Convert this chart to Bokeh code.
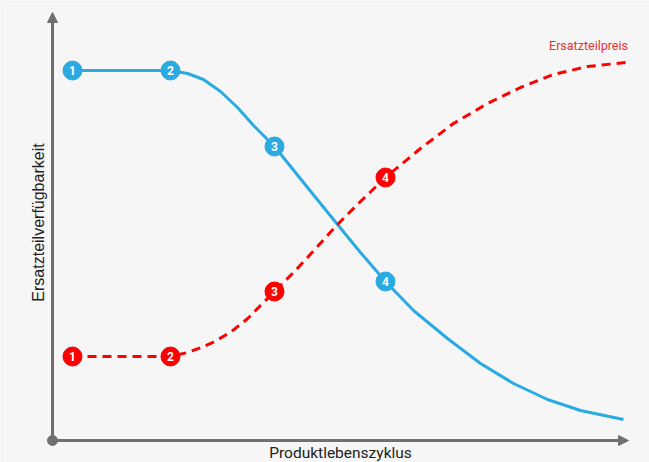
from bokeh.plotting import figure
from bokeh.models import Range1d, Arrow, NormalHead, Label, ColumnDataSource
from bokeh.core.properties import value
from bokeh.embed import file_html
from bokeh.resources import INLINE

# Data (arbitrary units: lifecycle on x, level on y)
blue_x = [20, 118, 135, 151, 168, 185, 201, 222, 255, 285, 308, 333, 361, 395, 428, 461, 495, 528, 571]
blue_y = [370, 370, 367, 361, 349, 333, 315, 294, 253, 216, 188, 159, 130, 102, 77, 57, 41, 30, 21]
red_x = [20, 118, 135, 148, 161, 178, 195, 208, 222, 241, 255, 285, 308, 333, 368, 401, 435, 468, 501, 535, 574]
red_y = [84, 84, 88, 92.7, 98.3, 108.3, 121.7, 135, 149, 168, 183, 216, 239, 263, 292, 317, 337, 353, 366, 374, 378]

marker_labels = ["1", "2", "3", "4"]
blue_mx = [20, 118, 222, 333]
blue_my = [370, 370, 294, 159]
red_mx = [20, 118, 222, 333]
red_my = [84, 84, 149, 263]

BLUE = "#29abe2"
RED = "#ff0000"
GREY = "#707070"
BG = "#f6f6f6"

p = figure(width=649, height=462, output_backend="svg", toolbar_location=None,
           x_range=Range1d(-52, 597), y_range=Range1d(-22, 440),
           min_border=0, background_fill_color=BG, border_fill_color=BG)
p.axis.visible = False
p.grid.visible = False
p.outline_line_color = None

# Axes with arrowheads
p.add_layout(Arrow(end=NormalHead(size=10, fill_color=GREY, line_color=GREY),
                   x_start=0, y_start=0, x_end=0, y_end=428,
                   line_color=GREY, line_width=3))
p.add_layout(Arrow(end=NormalHead(size=10, fill_color=GREY, line_color=GREY),
                   x_start=0, y_start=0, x_end=576, y_end=0,
                   line_color=GREY, line_width=3))
p.scatter([0], [0], size=10, color=GREY)

# Curves
p.line(blue_x, blue_y, line_color=BLUE, line_width=3, line_join="round")
p.line(red_x, red_y, line_color=RED, line_width=3, line_dash="9 6")

# Markers
for mx, my, col in ((blue_mx, blue_my, BLUE), (red_mx, red_my, RED)):
    src = ColumnDataSource(dict(x=mx, y=my, t=marker_labels))
    p.scatter("x", "y", source=src, size=19, fill_color=col, line_color=col)
    p.text("x", "y", text="t", source=src, text_color="white",
           text_font=value("Roboto"), text_font_style="bold", text_font_size="12px",
           text_align="center", text_baseline="middle")

# Labels
p.add_layout(Label(x=536, y=395, text="Ersatzteilpreis", text_color="#f03030",
                   text_font="Roboto", text_font_size="12.5px",
                   text_align="center", text_baseline="middle"))
p.add_layout(Label(x=288, y=-12, text="Produktlebenszyklus", text_color="#222222",
                   text_font="Roboto", text_font_size="15.5px",
                   text_align="center", text_baseline="middle"))
p.add_layout(Label(x=-14, y=218, text="Ersatzteilverfügbarkeit", text_color="#222222",
                   text_font="Liberation Sans", text_font_size="16px", angle=1.5708,
                   text_align="center", text_baseline="middle"))

open("out.html", "w").write(file_html(p, INLINE))
